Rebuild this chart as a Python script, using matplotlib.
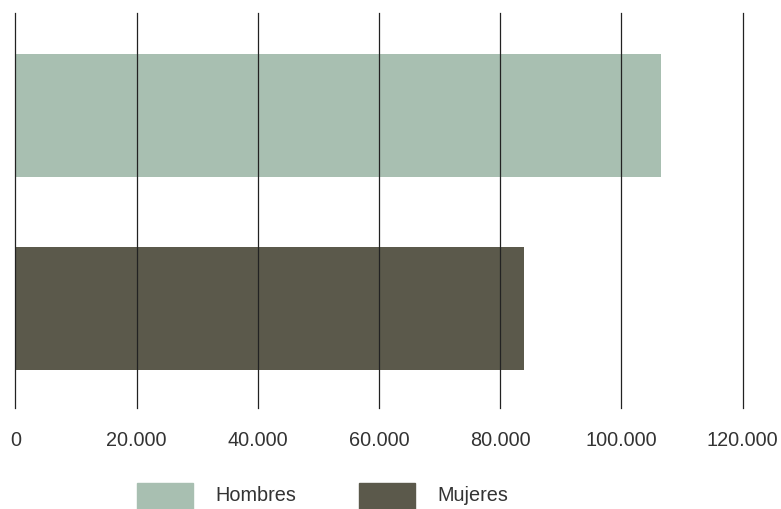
import matplotlib
matplotlib.use("Agg")
import matplotlib.pyplot as plt
from matplotlib.patches import Rectangle

categories = ["Mujeres", "Hombres"]
values = [84000, 106500]
colors = ["#5b594b", "#a8bfb1"]
tick_values = [0, 20000, 40000, 60000, 80000, 100000, 120000]
tick_labels = ["0", "20.000", "40.000", "60.000", "80.000", "100.000", "120.000"]
legend_labels = ["Hombres", "Mujeres"]
legend_colors = ["#a8bfb1", "#5b594b"]

plt.rcParams['font.family'] = ['Liberation Sans', 'DejaVu Sans']

W, H = 781, 510
fig = plt.figure(figsize=(W / 100, H / 100), dpi=100)
ax = fig.add_axes([15.3 / W, 1 - 409 / H, (742.7 - 15.3) / W, (409 - 14) / H])

pos = list(range(len(categories)))
ax.barh(pos, values, height=0.637, color=colors, zorder=1)
ax.set_ylim(-0.5155, 1.531)
ax.set_xlim(0, 120000)
ax.set_xticks(tick_values)
ax.set_xticklabels(tick_labels, fontsize=14.3, color="#333333")
ax.tick_params(axis="x", length=0, pad=16)
ax.set_yticks([])
for s in ax.spines.values():
    s.set_visible(False)
ax.set_axisbelow(False)
ax.xaxis.grid(True, color="#222222", linewidth=0.9)
for gl in ax.get_xgridlines():
    gl.set_clip_on(False)

# legend
sw_x = [137, 359]
tx_x = [215, 437]
for i, lab in enumerate(legend_labels):
    fig.add_artist(Rectangle((sw_x[i] / W, 0), 56 / W, 26 / H,
                             transform=fig.transFigure, color=legend_colors[i]))
    fig.text(tx_x[i] / W, 1 - 496 / H, lab, fontsize=14.3, color="#333333",
             va="center", ha="left")

fig.savefig("out.png", dpi=100)
